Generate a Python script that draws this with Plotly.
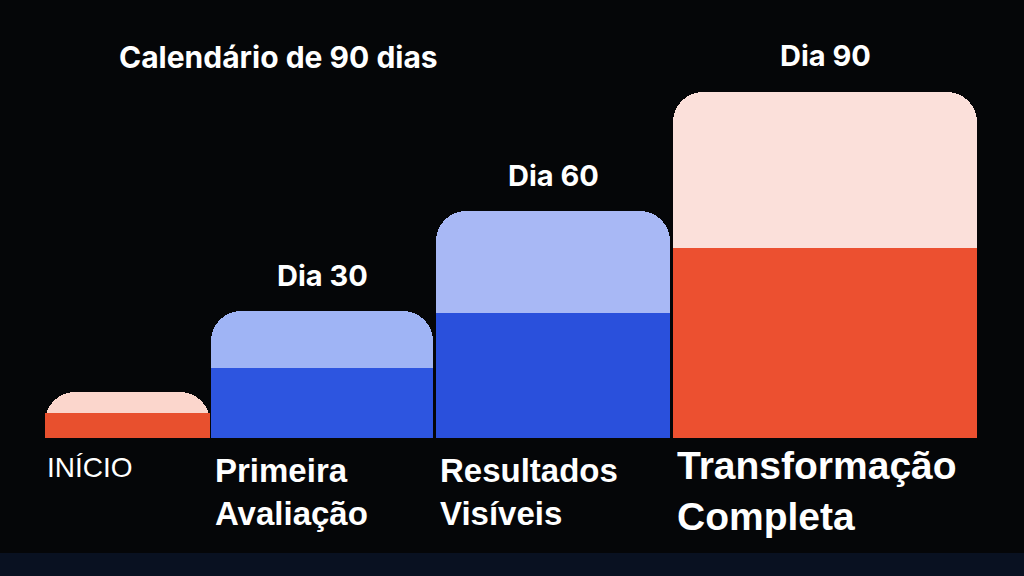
import plotly.graph_objects as go

stages = ["INÍCIO", "Primeira<br>Avaliação", "Resultados<br>Visíveis", "Transformação<br>Completa"]
day_labels = ["", "Dia 30", "Dia 60", "Dia 90"]
heights = [12, 33, 59, 90]
light_colors = ["#fbd6cc", "#9fb4f5", "#a8b8f5", "#fbe0da"]
dark_colors = ["#e8502e", "#2d55e0", "#2a50dc", "#ec5030"]

# layout geometry (pixel-like x coordinates)
centers = [127, 322, 553, 825]
widths = [165, 222, 234, 304]

fig = go.Figure()
fig.add_trace(go.Bar(x=centers, y=heights, width=widths,
                     marker=dict(color=light_colors, cornerradius=30, line=dict(width=0)), hoverinfo="skip"))
fig.add_trace(go.Bar(x=centers, y=[h * 0.55 for h in heights], width=widths,
                     marker=dict(color=dark_colors, line=dict(width=0)), hoverinfo="skip"))

for c, h, d in zip(centers, heights, day_labels):
    if d:
        fig.add_annotation(x=c, y=h, text=d, showarrow=False, yshift=36,
                           font=dict(family="Inter", size=29, color="white", weight="bold"))

sizes = [28, 33, 33, 39]
yoff = [-3, -3, -3, -1]
for i, (c, s) in enumerate(zip(centers, stages)):
    fig.add_annotation(x=c - widths[i] / 2 + (0 if i == 0 else 2), y=yoff[i], text=s, showarrow=False,
                       xanchor="left", yanchor="top", align="left",
                       font=dict(family="Liberation Sans", size=sizes[i], color="white",
                                 weight="normal" if i == 0 else "bold"))

fig.add_annotation(x=278, y=99, text="Calendário de 90 dias", showarrow=False,
                   font=dict(family="Inter", size=30, color="white", weight="bold"))

fig.update_layout(
    width=1024, height=576, margin=dict(l=0, r=0, t=0, b=0),
    paper_bgcolor="#050608", plot_bgcolor="#050608", barmode="overlay", showlegend=False,
    bargap=0,
    xaxis=dict(range=[0, 1024], visible=False, fixedrange=True),
    yaxis=dict(range=[-35.9, 113.9], visible=False, fixedrange=True),
    shapes=[dict(type="rect", xref="paper", yref="paper", x0=0, x1=1, y0=0, y1=0.04,
                 fillcolor="#0e2448", opacity=0.4, line=dict(width=0), layer="below")],
)

fig.write_html("out.html", config={"displayModeBar": False}, post_script="document.body.style.margin='0';")
